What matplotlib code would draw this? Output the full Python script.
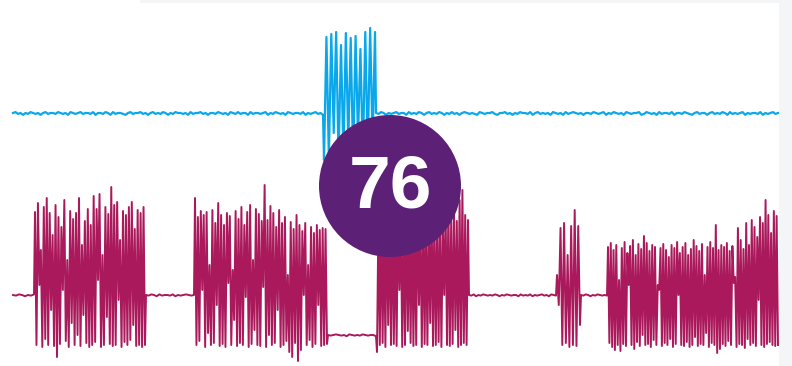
import numpy as np
import matplotlib
matplotlib.use("Agg")
import matplotlib.pyplot as plt
from matplotlib.patches import Circle, Rectangle

# ---------------- data (amplitudes relative to each trace's resting level) ----------------
blue_span = (13, 778)
blue_burst = (324, 375)
blue_burst_hi = [76, 79, 81, 68, 80, 75, 77, 64, 81, 85, 81]
blue_burst_lo = [-47, -45, -20, -46, -42, -30, -47, -25, -46, -40, -30]
blue_rest_left = ("2312021321 2023122132 1203212312 2130221320 3122102312 2312023121 "
                  "3202132212 0312231202 2132120321 3122031221 2302132120 3212213021 23120")
blue_rest_right = ("2132021231 2203121320 2312132021 3120232121 0321223102 2312021322 "
                   "1302312120 3212031232 1202213212 3021321203 2122301321 2031221302 "
                   "2132102312 2023121320 3121230212 2130212312")

mag_rest_0 = "21320213"
mag_rest_1 = "2132031221302123212"
mag_hold = "2123212032121321220"
mag_rest_2 = "21302132121320213212203121302123120321"
mag_rest_3 = "213202132121"
mag_hold_level = -40

mag_b1 = (35, 145)
mag_b1_hi = [83, 92, 45, 88, 97, 82, 60, 90, 78, 68, 95, 35, 84, 76, 82, 97, 50, 74, 86, 70,
             99, 86, 101, 40, 88, 81, 108, 90, 93, 55, 84, 80, 88, 93, 66, 85, 82, 88]
mag_b1_lo = [-50, 10, -52, -44, -50, -15, -51, -62, -49, 5, -46, -52, -28, -50, -40, -51, -20,
             -48, -52, -50, -47, 15, -52, -50, -22, -49, -51, -50, -5, -52, -47, -50, -45, -30,
             -51, -50, -52, -50]

mag_b2 = (195, 327)
mag_b2_hi = [97, 78, 84, 80, 83, 30, 85, 72, 92, 80, 70, 82, 79, 25, 84, 76, 88, 70, 83, 90,
             35, 86, 81, 74, 110, 75, 89, 82, 68, 85, 72, 78, 20, 73, 66, 80, 70, 64, 72, 30,
             68, 62, 70, 65, 67, 66]
mag_b2_lo = [-50, -46, 5, -52, -38, -50, -48, -10, -51, -49, -52, 12, -50, -25, -51, -48, -50,
             -2, -52, -49, -35, -50, -51, 8, -52, -40, -50, -48, -15, -52, -50, -46, -57, -62,
             -48, -66, -55, 0, -50, -45, -52, -49, -10, -51, -50, -49]

mag_b3 = (377, 468)
mag_b3_hi = [75, 82, 70, 86, 78, 90, 72, 84, 80, 68, 88, 76, 83, 74, 90, 70, 85, 79, 72, 88,
             80, 76, 84, 70, 86, 92, 78, 85, 74, 95, 105, 80, 75]
mag_b3_lo = [-57, -50, -48, -52, -30, -50, -49, -51, 5, -52, -50, -36, -48, -51, -50, -10, -52,
             -49, -50, -28, -51, -50, -47, -52, 0, -50, -51, -49, -35, -52, -50, -48, -50]

mag_b4 = (557, 580)
mag_b4_hi = [20, 67, 72, 40, 69, 85, 69]
mag_b4_lo = [-10, -50, -48, -52, -50, -51, -30]

mag_b5 = (608, 778)
mag_b5_hi = [48, 52, 45, 50, 15, 47, 53, 42, 49, 55, 40, 51, 46, 59, 52, 44, 50, 48, 10, 47,
             51, 45, 38, 50, 47, 53, 42, 48, 52, 40, 46, 55, 49, 44, 51, 20, 48, 53, 47, 70,
             45, 50, 48, 52, 44, 49, 18, 67, 55, 46, 72, 50, 75, 68, 58, 78, 72, 95, 80, 62,
             84, 79]
mag_b5_lo = [-48, -52, -55, -50, -56, -49, -51, 10, -50, -54, -47, -51, -40, -50, -49, -52, -45,
             -50, 5, -51, -48, -50, -44, -52, -49, 0, -50, -51, -47, -52, -50, -42, -51, -49,
             -50, -38, -52, -48, -50, -58, -54, -49, -51, -46, -50, 12, -52, -49, -50, -53, -44,
             -50, -48, -51, -5, -50, -52, -49, -47, -50, -51, -50]

badge_text = "76"

# ---------------- helpers ----------------
def rest(start, end, digits, level=0.0, unit=0.8):
    d = np.array([int(c) for c in digits.replace(" ", "")], float)
    x = np.linspace(start, end, len(d))
    return x, level + (d - 2) * unit

def burst(start, end, first, second):
    vals = np.empty(len(first) + len(second))
    vals[0::2] = first
    vals[1::2] = second
    x = np.linspace(start, end, len(vals))
    return x, vals

def join(parts):
    xs = np.concatenate([p[0] for p in parts])
    ys = np.concatenate([p[1] for p in parts])
    return xs, ys

# ---------------- figure ----------------
W, H, DPI = 792, 366, 100
fig = plt.figure(figsize=(W / DPI, H / DPI), dpi=DPI, facecolor="white")
ax = fig.add_axes([0, 0, 1, 1])
ax.set_xlim(0, W)
ax.set_ylim(H, 0)
ax.axis("off")

# faint frame of the source slide
ax.add_patch(Rectangle((779, 0), W - 779, H, color="#f4f5f7", zorder=0, lw=0))
ax.add_patch(Rectangle((140, 0), 640, 3, color="#f4f5f7", zorder=0, lw=0))

BLUE_BASE, MAG_BASE = 113, 295   # resting levels on the canvas

bx, by = join([
    rest(blue_span[0], blue_burst[0] - 1, blue_rest_left, unit=0.9),
    burst(blue_burst[0], blue_burst[1], blue_burst_lo, blue_burst_hi),
    rest(blue_burst[1] + 1, blue_span[1], blue_rest_right, unit=0.9),
])
ax.plot(bx, BLUE_BASE - by, color="#0aa8ea", lw=1.6, zorder=2)

mx, my = join([
    rest(13, mag_b1[0] - 1, mag_rest_0, unit=0.6),
    burst(*mag_b1, mag_b1_hi, mag_b1_lo),
    rest(mag_b1[1] + 1, mag_b2[0] - 1, mag_rest_1, unit=0.6),
    burst(*mag_b2, mag_b2_hi, mag_b2_lo),
    rest(mag_b2[1] + 1, mag_b3[0] - 1, mag_hold, level=mag_hold_level, unit=0.6),
    burst(*mag_b3, mag_b3_lo, mag_b3_hi),
    rest(mag_b3[1] + 1, mag_b4[0] - 1, mag_rest_2, unit=0.6),
    burst(*mag_b4, mag_b4_hi, mag_b4_lo),
    rest(mag_b4[1] + 1, mag_b5[0] - 1, mag_rest_3, unit=0.6),
    burst(*mag_b5, mag_b5_hi, mag_b5_lo),
])
ax.plot(mx, MAG_BASE - my, color="#aa195b", lw=1.4, zorder=2)

# badge
ax.add_patch(Circle((390, 186), 71, color="#5c2077", zorder=5, lw=0))
ax.text(390, 188, badge_text, color="white", fontsize=54, fontweight="bold",
        family=["Liberation Sans", "DejaVu Sans"], ha="center", va="center", zorder=6)

fig.savefig("out.png", dpi=DPI, facecolor="white")
